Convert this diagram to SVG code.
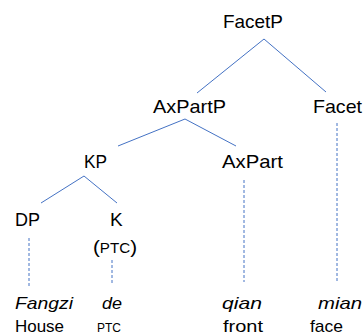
<svg xmlns="http://www.w3.org/2000/svg" width="364" height="335" viewBox="0 0 364 335">
<style>
text{font-family:"Liberation Sans",Arial,sans-serif;font-size:19px;fill:#000}
.w{font-size:17px}
.it{font-style:italic}
.sm{font-size:13px}
.e{stroke:#4472C4;stroke-width:1;fill:none}
.d{stroke:#4472C4;stroke-width:1;fill:none;stroke-dasharray:3 2}
</style>
<rect width="364" height="335" fill="#fff"/>
<g id="connectors">
<line class="e" x1="264" y1="39" x2="197" y2="93"/>
<line class="e" x1="264" y1="39" x2="326" y2="92"/>
<line class="e" x1="185" y1="119" x2="118" y2="146"/>
<line class="e" x1="185" y1="119" x2="236" y2="146"/>
<line class="e" x1="84" y1="176" x2="41" y2="203"/>
<line class="e" x1="84" y1="176" x2="117" y2="203"/>
<line class="d" x1="337" y1="123" x2="337" y2="282"/>
<line class="d" x1="244" y1="180" x2="244" y2="282"/>
<line class="d" x1="29" y1="238" x2="29" y2="287"/>
<line class="d" x1="112" y1="260" x2="112" y2="283"/>
</g>
<g id="FacetP"><text x="223" y="28" textLength="60" lengthAdjust="spacingAndGlyphs">FacetP</text></g>
<g id="AxPartP"><text x="153" y="113" textLength="73" lengthAdjust="spacingAndGlyphs">AxPartP</text></g>
<g id="Facet"><text x="313" y="113" textLength="49" lengthAdjust="spacingAndGlyphs">Facet</text></g>
<g id="KP"><text x="84" y="168" textLength="23" lengthAdjust="spacingAndGlyphs">KP</text></g>
<g id="AxPart"><text x="222" y="168" textLength="61" lengthAdjust="spacingAndGlyphs">AxPart</text></g>
<g id="DP"><text x="15" y="226" textLength="25" lengthAdjust="spacingAndGlyphs">DP</text></g>
<g id="K"><text x="110" y="226">K</text><text x="93" y="253" font-size="18" textLength="44" lengthAdjust="spacingAndGlyphs">(<tspan font-size="14">PTC</tspan>)</text></g>
<g id="Fangzi"><text class="it w" x="15" y="309" textLength="58" lengthAdjust="spacingAndGlyphs">Fangzi</text><text class="w" x="15" y="332" textLength="49" lengthAdjust="spacingAndGlyphs">House</text></g>
<g id="de"><text class="it w" x="102" y="309" textLength="20" lengthAdjust="spacingAndGlyphs">de</text><text class="sm" x="97" y="332" textLength="24" lengthAdjust="spacingAndGlyphs">PTC</text></g>
<g id="qian"><text class="it w" x="222" y="309" textLength="40" lengthAdjust="spacingAndGlyphs">qian</text><text class="w" x="223" y="332" textLength="40" lengthAdjust="spacingAndGlyphs">front</text></g>
<g id="mian"><text class="it w" x="318" y="309" textLength="44" lengthAdjust="spacingAndGlyphs">mian</text><text class="w" x="310" y="332" textLength="33" lengthAdjust="spacingAndGlyphs">face</text></g>
</svg>
